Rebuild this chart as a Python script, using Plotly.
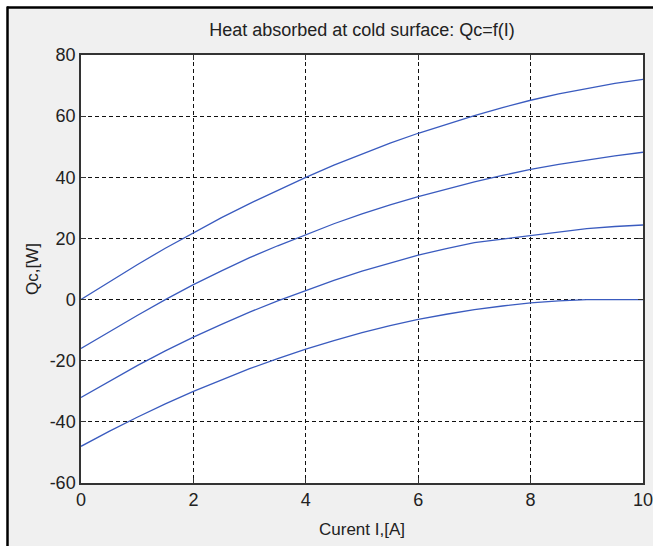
import plotly.graph_objects as go

current = [0, 0.5, 1, 1.5, 2, 2.5, 3, 3.5, 4, 4.5, 5, 5.5, 6, 6.5, 7, 7.5, 8, 8.5, 9, 9.5, 10]
qc_1 = [0, 5.8, 11.4, 16.8, 21.9, 26.8, 31.4, 35.8, 40.0, 44.0, 47.7, 51.2, 54.4, 57.4, 60.2, 62.8, 65.2, 67.3, 69.1, 70.7, 72.0]
qc_2 = [-16, -10.5, -5.2, 0, 4.9, 9.4, 13.7, 17.6, 21.3, 24.8, 28.0, 31.0, 33.7, 36.2, 38.5, 40.6, 42.6, 44.2, 45.7, 47.0, 48.2]
qc_3 = [-32, -26.7, -21.6, -16.8, -12.3, -8.1, -4.1, -0.4, 3.0, 6.3, 9.3, 12.0, 14.5, 16.7, 18.6, 19.8, 21.0, 22.2, 23.2, 23.9, 24.4]
qc_4 = [-48, -43.1, -38.5, -34.1, -30.0, -26.2, -22.6, -19.3, -16.2, -13.4, -10.8, -8.5, -6.5, -4.8, -3.3, -2.1, -1.1, -0.4, 0, 0, 0]

x_ticks = [0, 2, 4, 6, 8, 10]
x_tick_labels = ["0", "2", "4", "6", "8", "10"]
y_ticks = [-60, -40, -20, 0, 20, 40, 60, 80]
y_tick_labels = ["-60", "-40", "-20", "0", "20", "40", "60", "80"]

title_text = "Heat absorbed at cold surface: Qc=f(I)"
x_label = "Curent I,[A]"
y_label = "Qc,[W]"

FONT = "Liberation Sans, Arial, sans-serif"
LINE_COLOR = "#3a5bbf"

fig = go.Figure()
for ys in (qc_1, qc_2, qc_3, qc_4):
    fig.add_trace(go.Scatter(x=current, y=ys, mode="lines",
                             line=dict(color=LINE_COLOR, width=1.3),
                             showlegend=False, hoverinfo="skip"))

W, H = 653, 546
L, R, T, B = 81, 10, 55, 63
pw, ph = W - L - R, H - T - B

def px_x(p):
    return (p - L) / pw

def px_y(p):
    return (H - B - p) / ph

axis_common = dict(
    showgrid=True, gridcolor="#111111", griddash="4px,3px", gridwidth=1,
    zeroline=False, showline=True, linecolor="#333333", linewidth=1.5,
    mirror="ticks", ticks="inside", ticklen=5, tickcolor="#333333",
    tickfont=dict(family=FONT, size=18, color="#222222"),
    automargin=False, ticklabeloverflow="allow",
)

fig.update_xaxes(range=[0, 10], tickvals=x_ticks, ticktext=x_tick_labels, **axis_common,
                 title=dict(text=x_label, font=dict(family=FONT, size=17, color="#222222"), standoff=14))
fig.update_yaxes(range=[-60, 80], tickvals=y_ticks, ticktext=y_tick_labels, **axis_common,
                 title=dict(text=y_label, font=dict(family=FONT, size=17, color="#222222"), standoff=7))

shapes = [
    dict(type="rect", xref="paper", yref="paper", x0=px_x(-5), x1=px_x(W + 5), y0=px_y(7), y1=px_y(-5),
         fillcolor="white", line=dict(width=0), layer="above"),
    dict(type="rect", xref="paper", yref="paper", x0=px_x(-5), x1=px_x(7), y0=px_y(H + 5), y1=px_y(-5),
         fillcolor="white", line=dict(width=0), layer="above"),
    dict(type="line", xref="paper", yref="paper", x0=px_x(7), x1=px_x(W + 5), y0=px_y(7.5), y1=px_y(7.5),
         line=dict(color="black", width=2.5), layer="above"),
    dict(type="line", xref="paper", yref="paper", x0=px_x(7.5), x1=px_x(7.5), y0=px_y(6.5), y1=px_y(H + 5),
         line=dict(color="black", width=2.5), layer="above"),
]

fig.update_layout(
    width=W, height=H,
    margin=dict(l=L, r=R, t=T, b=B),
    paper_bgcolor="#f0f0f0", plot_bgcolor="white",
    title=dict(text=title_text, x=0.5, xref="paper", xanchor="center",
               y=1 - 30 / H, yanchor="middle",
               font=dict(family=FONT, size=18, color="#222222")),
    shapes=shapes,
)

fig.write_html("out.html")
